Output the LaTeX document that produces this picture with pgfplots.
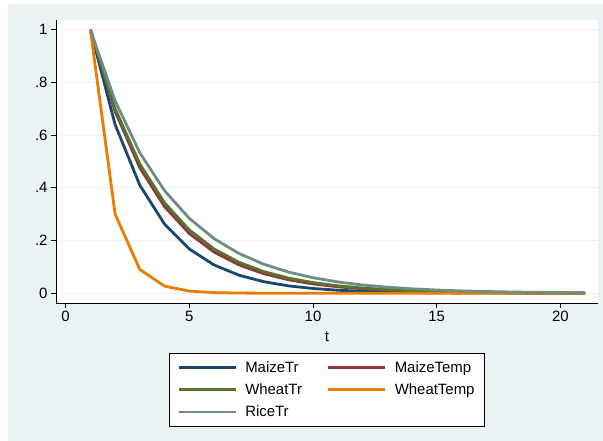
\documentclass[border=0pt]{standalone}
\usepackage{pgfplots}
\pgfplotsset{compat=1.18}
\usepackage{fontspec}
\setmainfont{Liberation Sans}
\definecolor{bgc}{RGB}{234,242,243}
\definecolor{snavy}{RGB}{26,71,111}
\definecolor{smaroon}{RGB}{144,53,59}
\definecolor{sgreen}{RGB}{85,117,47}
\definecolor{sorange}{RGB}{232,125,0}
\definecolor{steal}{RGB}{110,142,132}
\pgfplotstableread{
t MaizeTr MaizeTemp WheatTr WheatTemp RiceTr
1 1 1 1 1 1
2 0.64 0.69 0.70 0.30 0.73
3 0.4096 0.4761 0.49 0.09 0.5329
4 0.262144 0.328509 0.343 0.027 0.389017
5 0.167772 0.226671 0.2401 0.0081 0.283982
6 0.107374 0.156403 0.16807 0.00243 0.207307
7 0.068719 0.107918 0.117649 0.000729 0.151334
8 0.043980 0.074464 0.082354 0.000219 0.110474
9 0.028147 0.051380 0.057648 0.0000656 0.080646
10 0.018014 0.035452 0.040354 0.0000197 0.058871
11 0.011529 0.024462 0.028248 0.0000059 0.042976
12 0.007379 0.016879 0.019773 0.0000018 0.031372
13 0.004722 0.011647 0.013841 0.0000005 0.022902
14 0.003022 0.008036 0.009689 0.0000002 0.016718
15 0.001934 0.005545 0.006782 0 0.012204
16 0.001238 0.003826 0.004748 0 0.008909
17 0.000792 0.002640 0.003323 0 0.006504
18 0.000507 0.001822 0.002326 0 0.004748
19 0.000325 0.001257 0.001628 0 0.003466
20 0.000208 0.000867 0.001140 0 0.002530
21 0.000133 0.000598 0.000798 0 0.001847
}\datatable
\begin{document}
\begin{tikzpicture}
\fill[white] (0,0) rectangle (603bp,441bp);
\fill[bgc] (8bp,0) rectangle (603bp,437bp);
\begin{axis}[
  at={(56bp,138bp)}, anchor=south west,
  scale only axis, width=542bp, height=283bp,
  xmin=-0.39, xmax=21.52, ymin=-0.037, ymax=1.037,
  axis background/.style={fill=white},
  axis x line*=bottom, axis y line*=left,
  axis line style={-, black, line width=0.7bp},
  every outer x axis line/.append style={-},
  every outer y axis line/.append style={-},
  tick align=outside, major tick length=5bp,
  tick style={black, line width=0.7bp},
  xtick={0,5,10,15,20},
  ytick={0,0.2,0.4,0.6,0.8,1},
  yticklabels={0,.2,.4,.6,.8,1},
  ymajorgrids, major grid style={bgc, line width=1.2bp},
  ticklabel style={font=\fontsize{15}{18}\selectfont},
  /pgf/number format/assume math mode=true,
  xlabel={t},
  xlabel style={font=\fontsize{15}{18}\selectfont, at={(axis description cs:0.5,-0.1201)}, anchor=center},
  legend columns=2,
  legend cell align=left,
  legend style={at={(0.5,-0.1767)}, anchor=north, draw=black, line width=0.6bp, fill=white,
    font=\fontsize{15}{18}\selectfont, inner xsep=8bp, inner ysep=6bp,
    row sep=6bp,
    /tikz/every odd column/.append style={column sep=6bp},
    /tikz/every even column/.append style={column sep=23bp}},
  legend image code/.code={\draw[#1, line width=2.8bp] (0bp,0bp) -- (57bp,0bp);},
  every axis plot/.append style={line width=2.8bp, mark=none, line join=round},
]
\addplot[snavy] table[x=t,y=MaizeTr] {\datatable};
\addplot[smaroon] table[x=t,y=MaizeTemp] {\datatable};
\addplot[sgreen] table[x=t,y=WheatTr] {\datatable};
\addplot[sorange] table[x=t,y=WheatTemp] {\datatable};
\addplot[steal] table[x=t,y=RiceTr] {\datatable};
\legend{MaizeTr,MaizeTemp,WheatTr,WheatTemp,RiceTr}
\end{axis}
\end{tikzpicture}
\end{document}
